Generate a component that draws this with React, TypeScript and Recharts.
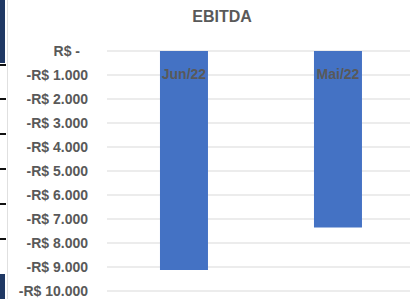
import { BarChart, Bar, XAxis, YAxis, CartesianGrid, LabelList } from 'recharts';

const months = ['Jun/22', 'Mai/22'];
const ebitda = [-9130, -7350];
const yTicks = [0, -1000, -2000, -3000, -4000, -5000, -6000, -7000, -8000, -9000, -10000];

const data = months.map((m, i) => ({ month: m, ebitda: ebitda[i] }));

const FONT = '"Liberation Sans", Arial, sans-serif';
const GREY = '#595959';

function fmt(v: number) {
  if (v === 0) return 'R$ -';
  const s = Math.abs(v).toLocaleString('pt-BR');
  return (v < 0 ? '-' : '') + 'R$ ' + s;
}

function YTick(props: any) {
  const { x, y, payload } = props;
  const v = payload.value as number;
  return (
    <text
      x={x - (v === 0 ? 8 : 0)}
      y={y}
      dy={5}
      textAnchor="end"
      fill={GREY}
      fontSize={14}
      fontWeight="bold"
      fontFamily={FONT}
    >
      {fmt(v)}
    </text>
  );
}

// category label drawn just under the zero line, like Excel does for negative bars
function MonthLabel(props: any) {
  const { x, y, width, height, value } = props;
  const top = Math.min(y, y + height);
  return (
    <text
      x={x + width / 2}
      y={top + 28}
      textAnchor="middle"
      fill={GREY}
      fontSize={14}
      fontWeight="bold"
      fontFamily={FONT}
    >
      {value}
    </text>
  );
}

// bits of the neighbouring window visible on the left edge of the screenshot
const edgeLines = [64, 98, 133, 168, 203, 238];

export default function App() {
  return (
    <div style={{ position: 'fixed', left: 0, top: 0, width: 410, height: 299, overflow: 'hidden', background: '#fff' }}>
      <div style={{ position: 'absolute', left: 0, top: 0, width: 5, height: 63, background: '#1f3864' }} />
      <div style={{ position: 'absolute', left: 0, top: 274, width: 5, height: 25, background: '#1f3864' }} />
      {edgeLines.map((t) => (
        <div key={t} style={{ position: 'absolute', left: 0, top: t, width: 6, height: 2, background: '#111' }} />
      ))}
      <div style={{ position: 'absolute', left: 7, top: 0, width: 1, height: 299, background: '#e0e0e0' }} />
      <div
        style={{
          position: 'absolute',
          left: 122,
          top: 8,
          width: 200,
          textAlign: 'center',
          fontFamily: FONT,
          fontWeight: 'bold',
          fontSize: 16,
          color: GREY,
        }}
      >
        EBITDA
      </div>
      <BarChart
        width={415}
        height={299}
        data={data}
        margin={{ top: 51, right: 0, bottom: 8, left: 0 }}
        barCategoryGap="34.4%"
        style={{ position: 'absolute', left: 0, top: 0 }}
      >
        <CartesianGrid vertical={false} stroke="#d9d9d9" strokeWidth={1} />
        <XAxis dataKey="month" hide />
        <YAxis
          width={107}
          domain={[-10000, 0]}
          ticks={yTicks}
          interval={0}
          axisLine={false}
          tickLine={false}
          tickMargin={13}
          tick={<YTick />}
        />
        <Bar dataKey="ebitda" fill="#4472c4" isAnimationActive={false}>
          <LabelList dataKey="month" content={<MonthLabel />} />
        </Bar>
      </BarChart>
    </div>
  );
}
